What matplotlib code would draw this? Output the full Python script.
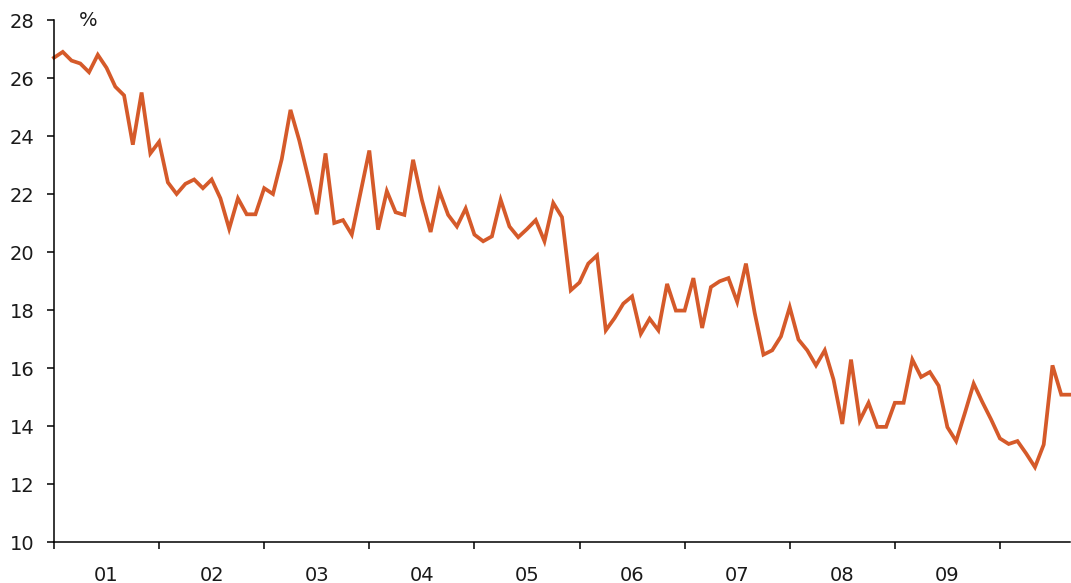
import matplotlib
matplotlib.use("Agg")
import matplotlib.pyplot as plt
import numpy as np

# Monthly values, Jan 2001 .. Sep 2010 (%)
values = [
    26.7, 26.9, 26.6, 26.5, 26.2, 26.8, 26.35, 25.7, 25.4, 23.7, 25.5, 23.4,   # 2001
    23.8, 22.4, 22.0, 22.35, 22.5, 22.2, 22.5, 21.85, 20.8, 21.85, 21.3, 21.3, # 2002
    22.2, 22.0, 23.2, 24.9, 23.85, 22.6, 21.3, 23.4, 21.0, 21.1, 20.6, 22.05, # 2003
    23.5, 20.77, 22.1, 21.37, 21.28, 23.18, 21.8, 20.69, 22.1, 21.28, 20.88, 21.5, # 2004
    20.6, 20.37, 20.54, 21.8, 20.88, 20.51, 20.79, 21.1, 20.37, 21.69, 21.2, 18.68, # 2005
    18.95, 19.6, 19.88, 17.3, 17.72, 18.22, 18.47, 17.18, 17.7, 17.3, 18.9, 17.98, # 2006
    17.98, 19.1, 17.38, 18.79, 18.99, 19.1, 18.28, 19.6, 17.9, 16.46, 16.61, 17.09, # 2007
    18.1, 16.98, 16.61, 16.09, 16.61, 15.6, 14.07, 16.29, 14.19, 14.8, 13.97, 13.97, # 2008
    14.8, 14.8, 16.29, 15.69, 15.86, 15.39, 13.96, 13.48, 14.45, 15.46, 14.82, 14.22, # 2009
    13.57, 13.38, 13.48, 13.05, 12.58, 13.36, 16.09, 15.08, 15.08,                # 2010
]
year_labels = ["01", "02", "03", "04", "05", "06", "07", "08", "09"]
y_ticks = [10, 12, 14, 16, 18, 20, 22, 24, 26, 28]

W, H = 1071, 583
fig = plt.figure(figsize=(W / 100, H / 100), dpi=100)
left, right, top, bottom = 54, 1070, 20, 542
ax = fig.add_axes([left / W, 1 - bottom / H, (right - left) / W, (bottom - top) / H])

x = np.arange(len(values))
ax.plot(x, values, color="#D55A2A", linewidth=2.7, solid_joinstyle="miter", clip_on=False)

ax.set_xlim(0, len(values) - 1)
ax.set_ylim(10, 28)

for s in ["top", "right"]:
    ax.spines[s].set_visible(False)
for s in ["left", "bottom"]:
    ax.spines[s].set_linewidth(1.1)
    ax.spines[s].set_color("black")

font = "DejaVu Sans"
ax.set_yticks(y_ticks)
ax.set_yticklabels([str(v) for v in y_ticks], fontsize=14, family=font, color="#1a1a1a")
ax.tick_params(axis="y", direction="out", length=5, width=1.1, pad=9)

ax.set_xticks(np.arange(0, len(values), 12))
ax.set_xticklabels([])
ax.tick_params(axis="x", which="major", direction="out", length=5, width=1.1)
ax.set_xticks(np.arange(6, 12 * len(year_labels), 12), minor=True)
ax.set_xticklabels(year_labels, minor=True, fontsize=14, family=font, color="#1a1a1a")
ax.tick_params(axis="x", which="minor", length=0, pad=17)

fig.text(88 / W, 1 - 21 / H, "%", fontsize=14, family=font, color="#1a1a1a",
         ha="center", va="center")

fig.savefig("out.png", dpi=100)
